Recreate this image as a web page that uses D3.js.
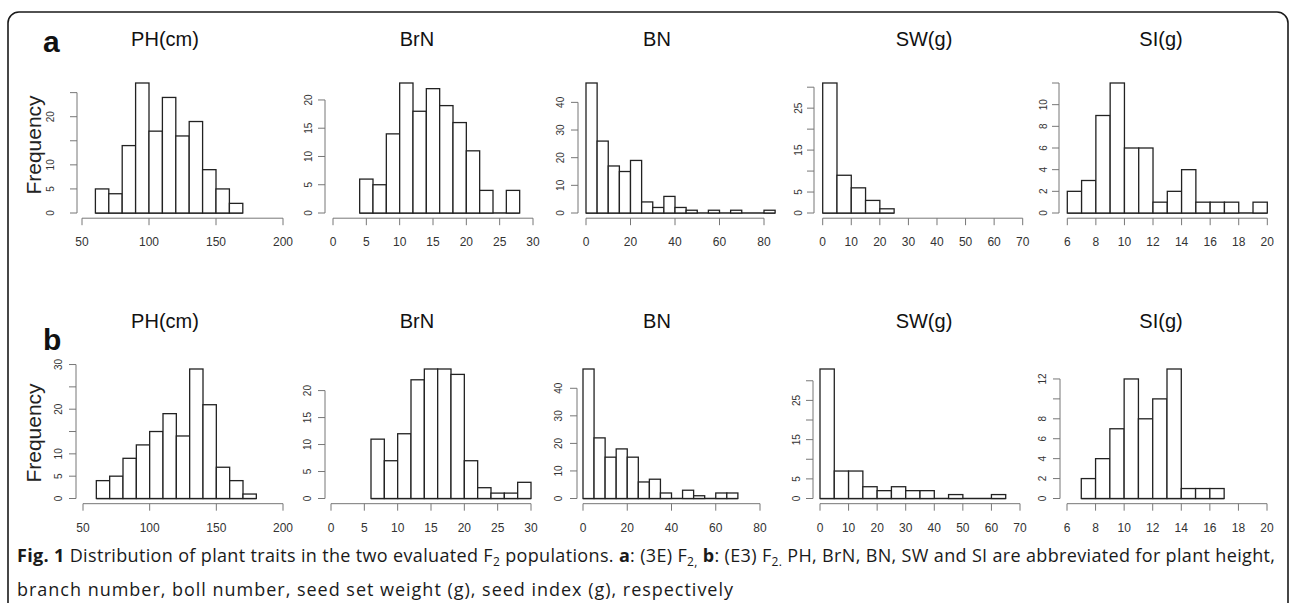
<!DOCTYPE html>
<html>
<head>
<meta charset="utf-8">
<script src="https://cdn.jsdelivr.net/npm/d3@7"></script>
<style>
  body { margin: 0; background: #fff; }
</style>
</head>
<body>
<script>
const titles = ["PH(cm)", "BrN", "BN", "SW(g)", "SI(g)"];

// counts per bin, population a: (3E) F2
const phA = [5, 4, 14, 27, 17, 24, 16, 19, 9, 5, 2];
const brnA = [6, 5, 14, 23, 18, 22, 19, 16, 11, 4, 0, 4];
const bnA = [47, 26, 17, 15, 19, 4, 2, 6, 2, 1, 0, 1, 0, 1, 0, 0, 1];
const swA = [31, 9, 6, 3, 1];
const siA = [2, 3, 9, 12, 6, 6, 1, 2, 4, 1, 1, 1, 0, 1];

// counts per bin, population b: (E3) F2
const phB = [4, 5, 9, 12, 15, 19, 14, 29, 21, 7, 4, 1];
const brnB = [11, 7, 12, 22, 24, 24, 23, 7, 2, 1, 1, 3];
const bnB = [47, 22, 15, 18, 15, 6, 7, 2, 0, 3, 1, 0, 2, 2];
const swB = [33, 7, 7, 3, 2, 3, 2, 2, 0, 1, 0, 0, 1];
const siB = [2, 4, 7, 12, 8, 10, 13, 1, 1, 1];

// first break and bin width
const binStartA = [60, 4, 0, 0, 6];
const binStartB = [60, 6, 0, 0, 7];
const binWidth = [10, 2, 5, 5, 1];

// x axis ticks
const xTicks = [
  [50, 100, 150, 200],
  [0, 5, 10, 15, 20, 25, 30],
  [0, 20, 40, 60, 80],
  [0, 10, 20, 30, 40, 50, 60, 70],
  [6, 8, 10, 12, 14, 16, 18, 20],
];

// y axis ticks, and the ones that carry a label
const yTicksA = [[0, 5, 10, 15, 20, 25], [0, 5, 10, 15, 20], [0, 10, 20, 30, 40], [0, 5, 10, 15, 20, 25, 30], [0, 2, 4, 6, 8, 10, 12]];
const yLabelsA = [[0, 5, 10, 20], [0, 5, 10, 15, 20], [0, 10, 20, 30, 40], [0, 5, 15, 25], [0, 2, 4, 6, 8, 10]];
const yTicksB = [[0, 5, 10, 15, 20, 25, 30], [0, 5, 10, 15, 20], [0, 10, 20, 30, 40], [0, 5, 10, 15, 20, 25, 30], [0, 2, 4, 6, 8, 10, 12]];
const yLabelsB = [[0, 5, 10, 20, 30], [0, 5, 10, 15, 20], [0, 10, 20, 30, 40], [0, 5, 15, 25], [0, 2, 4, 6, 8, 12]];

const svg = d3
  .select("body")
  .append("svg")
  .attr("width", 1290)
  .attr("height", 603)
  .style("font-family", "'Liberation Sans', Arial, sans-serif");

// frame
svg
  .append("rect")
  .attr("x", 8)
  .attr("y", 12)
  .attr("width", 1280)
  .attr("height", 640)
  .attr("rx", 11)
  .attr("fill", "none")
  .attr("stroke", "#1a1a1a")
  .attr("stroke-width", 1.6);

const titleX = [165, 417, 657, 924, 1161];

const rows = [
  {
    letter: "a",
    counts: [phA, brnA, bnA, swA, siA],
    starts: binStartA,
    yTicks: yTicksA,
    yLabels: yLabelsA,
    base: 213,
    top: 83,
    titleY: 46,
    letterY: 52,
    freqY: 145,
    xPix: [[82, 283], [333, 533], [586, 764], [822.7, 1022.7], [1067.3, 1267.3]],
    yAxisX: [77, 325, 578, 814, 1059],
    yLabGap: [27, 17, 18, 16, 16],
  },
  {
    letter: "b",
    counts: [phB, brnB, bnB, swB, siB],
    starts: binStartB,
    yTicks: yTicksB,
    yLabels: yLabelsB,
    base: 498.5,
    top: 369,
    titleY: 328,
    letterY: 350,
    freqY: 433,
    xPix: [[83, 283], [331, 531], [583, 760], [820, 1020], [1067, 1267]],
    yAxisX: [76, 325, 577, 813, 1060],
    yLabGap: [18, 18, 19, 17, 18],
  },
];

rows.forEach((row) => {
  const axisY = row.base + 0.04 * (row.base - row.top);

  svg
    .append("text")
    .attr("x", 43)
    .attr("y", row.letterY)
    .attr("font-size", 30)
    .attr("font-weight", "bold")
    .attr("fill", "#111")
    .text(row.letter);

  svg
    .append("text")
    .attr("transform", "translate(41," + row.freqY + ") rotate(-90)")
    .attr("text-anchor", "middle")
    .attr("font-size", 21)
    .attr("fill", "#222")
    .text("Frequency");

  titles.forEach((title, k) => {
    const counts = row.counts[k];
    const start = row.starts[k];
    const w = binWidth[k];
    const ticks = xTicks[k];

    const x = d3
      .scaleLinear()
      .domain([ticks[0], ticks[ticks.length - 1]])
      .range(row.xPix[k]);
    const y = d3
      .scaleLinear()
      .domain([0, d3.max(counts)])
      .range([row.base, row.top]);

    const g = svg.append("g");

    g.append("text")
      .attr("x", titleX[k])
      .attr("y", row.titleY)
      .attr("text-anchor", "middle")
      .attr("font-size", 20)
      .attr("fill", "#111")
      .text(title);

    // zero-count bins still leave a line at the base, as in R
    g.append("line")
      .attr("x1", x(start))
      .attr("x2", x(start + counts.length * w))
      .attr("y1", y(0))
      .attr("y2", y(0))
      .attr("stroke", "#222")
      .attr("stroke-width", 1.3);

    g.selectAll("rect.bar")
      .data(counts)
      .enter()
      .append("rect")
      .attr("class", "bar")
      .attr("x", (d, i) => x(start + i * w))
      .attr("width", (d, i) => x(start + (i + 1) * w) - x(start + i * w))
      .attr("y", (d) => y(d))
      .attr("height", (d) => y(0) - y(d))
      .attr("fill", "#fff")
      .attr("stroke", "#222")
      .attr("stroke-width", 1.3);

    // x axis
    const xAxis = g.append("g").attr("transform", "translate(0," + axisY + ")");
    xAxis
      .append("line")
      .attr("x1", x(ticks[0]))
      .attr("x2", x(ticks[ticks.length - 1]))
      .attr("stroke", "#777")
      .attr("stroke-width", 1);
    xAxis
      .selectAll("line.tick")
      .data(ticks)
      .enter()
      .append("line")
      .attr("class", "tick")
      .attr("x1", (d) => x(d))
      .attr("x2", (d) => x(d))
      .attr("y1", 0)
      .attr("y2", 7)
      .attr("stroke", "#777");
    xAxis
      .selectAll("text")
      .data(ticks)
      .enter()
      .append("text")
      .attr("x", (d) => x(d))
      .attr("y", 28)
      .attr("text-anchor", "middle")
      .attr("font-family", "'Liberation Sans Narrow', 'Arial Narrow', sans-serif")
      .attr("font-size", 12)
      .attr("fill", "#333")
      .text((d) => d);

    // y axis
    const yt = row.yTicks[k];
    const ax = row.yAxisX[k];
    const yAxis = g.append("g");
    yAxis
      .append("line")
      .attr("x1", ax)
      .attr("x2", ax)
      .attr("y1", y(yt[0]))
      .attr("y2", y(yt[yt.length - 1]))
      .attr("stroke", "#777");
    yAxis
      .selectAll("line.tick")
      .data(yt)
      .enter()
      .append("line")
      .attr("class", "tick")
      .attr("x1", ax - 7)
      .attr("x2", ax)
      .attr("y1", (d) => y(d))
      .attr("y2", (d) => y(d))
      .attr("stroke", "#777");
    yAxis
      .selectAll("text")
      .data(row.yLabels[k])
      .enter()
      .append("text")
      .attr("transform", (d) => "translate(" + (ax - row.yLabGap[k]) + "," + y(d) + ") rotate(-90)")
      .attr("text-anchor", "middle")
      .attr("dy", "0.35em")
      .attr("font-size", 10)
      .attr("fill", "#333")
      .text((d) => d);
  });
});

// caption
const cap = svg
  .append("g")
  .style("font-family", "'Open Sans', 'Noto Sans', sans-serif")
  .attr("font-size", 18)
  .attr("fill", "#1a1a1a");

const line1 = cap
  .append("text")
  .attr("x", 17)
  .attr("y", 562)
  .attr("textLength", 1258)
  .attr("lengthAdjust", "spacing");
line1.append("tspan").attr("font-weight", "bold").text("Fig. 1");
line1.append("tspan").text(" Distribution of plant traits in the two evaluated F");
line1.append("tspan").attr("font-size", 12).attr("dy", 4).text("2");
line1.append("tspan").attr("dy", -4).text(" populations. ");
line1.append("tspan").attr("font-weight", "bold").text("a");
line1.append("tspan").text(": (3E) F");
line1.append("tspan").attr("font-size", 12).attr("dy", 4).text("2,");
line1.append("tspan").attr("dy", -4).text(" ");
line1.append("tspan").attr("font-weight", "bold").text("b");
line1.append("tspan").text(": (E3) F");
line1.append("tspan").attr("font-size", 12).attr("dy", 4).text("2.");
line1.append("tspan").attr("dy", -4).text(" PH, BrN, BN, SW and SI are abbreviated for plant height,");

cap
  .append("text")
  .attr("x", 17)
  .attr("y", 596)
  .attr("textLength", 716)
  .attr("lengthAdjust", "spacing")
  .text("branch number, boll number, seed set weight (g), seed index (g), respectively");
</script>
</body>
</html>
